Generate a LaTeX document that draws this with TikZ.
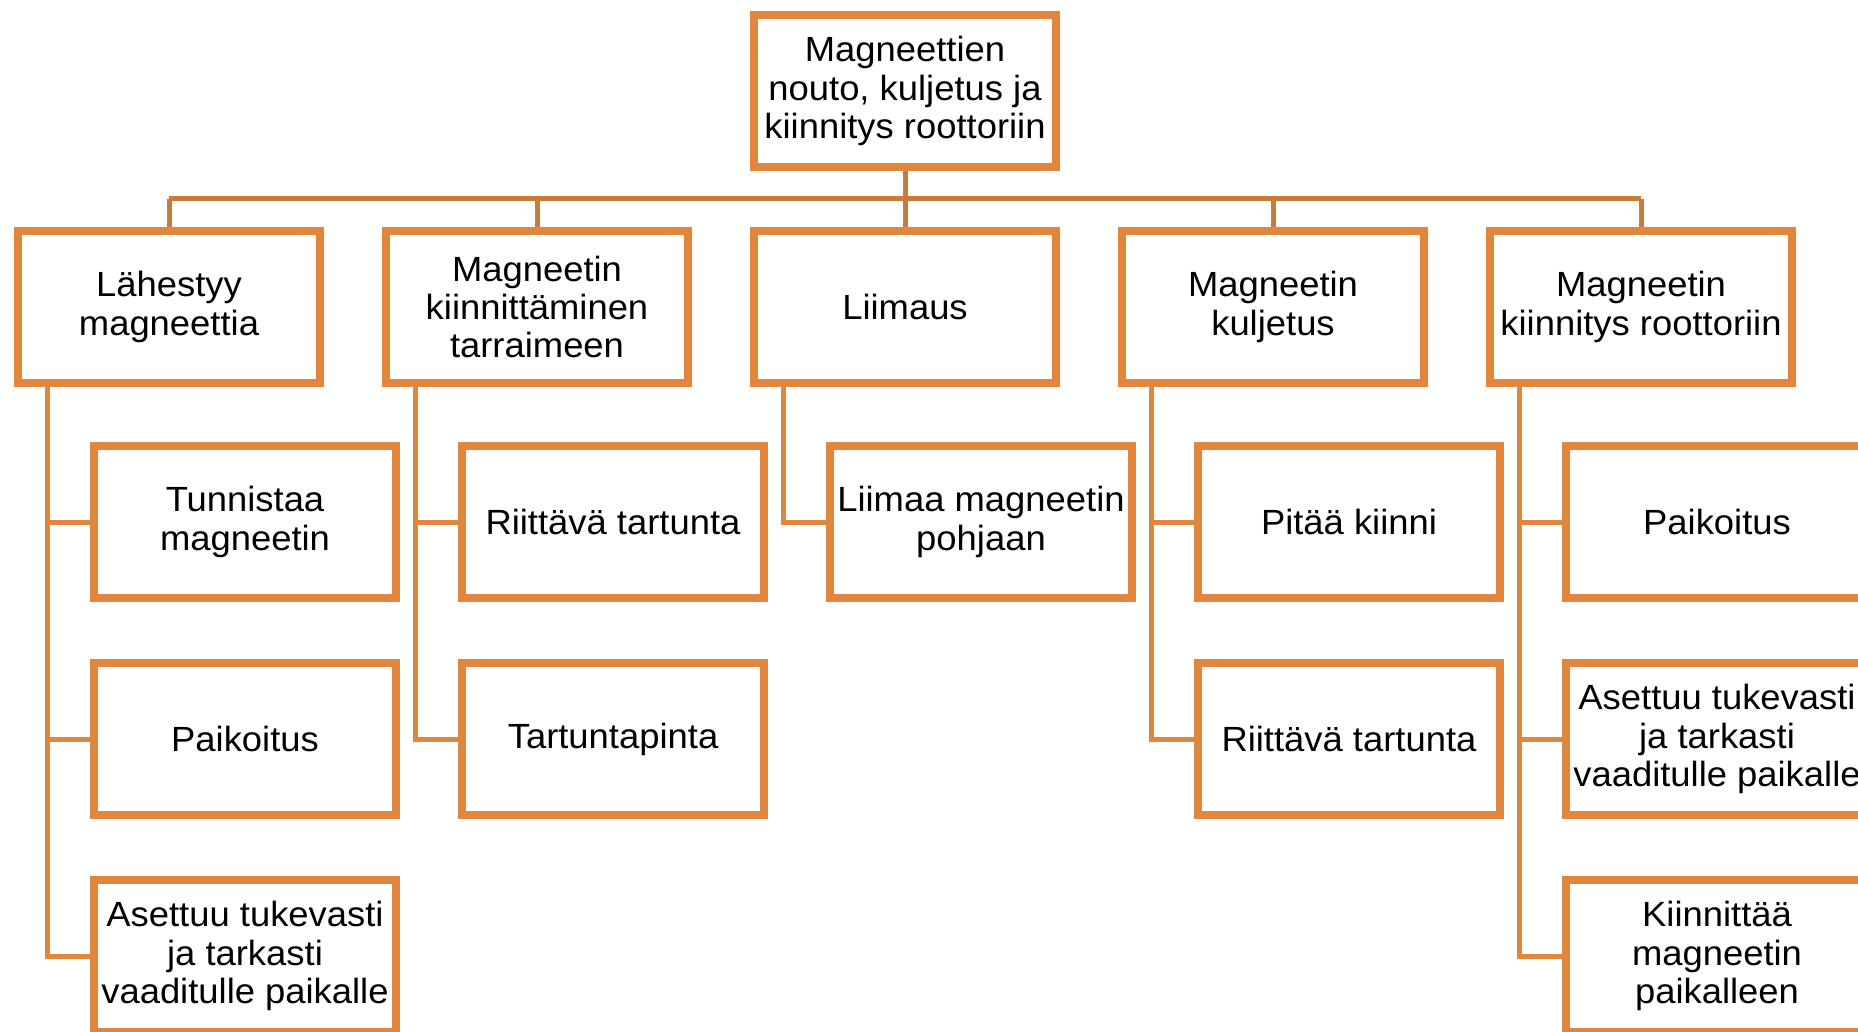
\documentclass[tikz,border=0pt]{standalone}
\usepackage{fontspec}
\setmainfont{Liberation Sans}[FakeStretch=1.04]
\usetikzlibrary{shadows}
\definecolor{boxorange}{RGB}{224,134,62}
\definecolor{busorange}{RGB}{204,122,58}
\begin{document}
\begin{tikzpicture}[x=0.5pt,y=-0.5pt,
  box/.style={draw=boxorange, line width=4pt, fill=white, minimum width=151pt, minimum height=76pt,
    inner sep=0pt, align=center, font=\fontsize{17.5}{19.2}\selectfont,
    drop shadow={shadow xshift=1pt,shadow yshift=-1.5pt,opacity=0.25}},
  bus/.style={draw=busorange, line width=2.5pt},
  link/.style={draw=boxorange, line width=2.5pt}]
\useasboundingbox (0,0) rectangle (1858,1032);
\clip (0,0) rectangle (1858,1032);
% top
\node[box] (top) at (905,91) {Magneettien\\nouto, kuljetus ja\\kiinnitys roottoriin};
% level 1
\node[box] (a) at (169,307) {Lähestyy\\magneettia};
\node[box] (b) at (537,307) {Magneetin\\kiinnittäminen\\tarraimeen};
\node[box] (c) at (905,307) {Liimaus};
\node[box] (d) at (1273,307) {Magneetin\\kuljetus};
\node[box] (e) at (1641,307) {Magneetin\\kiinnitys roottoriin};
% level 2
\node[box] (a1) at (245,522) {Tunnistaa\\magneetin};
\node[box] (a2) at (245,739) {Paikoitus};
\node[box] (a3) at (245,956) {Asettuu tukevasti\\ja tarkasti\\vaaditulle paikalle};
\node[box] (b1) at (613,522) {Riittävä tartunta};
\node[box] (b2) at (613,739) {Tartuntapinta};
\node[box] (c1) at (981,522) {Liimaa magneetin\\pohjaan};
\node[box] (d1) at (1349,522) {Pitää kiinni};
\node[box] (d2) at (1349,739) {Riittävä tartunta};
\node[box] (e1) at (1717,522) {Paikoitus};
\node[box] (e2) at (1717,739) {Asettuu tukevasti\\ja tarkasti\\vaaditulle paikalle};
\node[box] (e3) at (1717,956) {Kiinnittää\\magneetin\\paikalleen};
% bus
\coordinate (bus) at (905,199);
\draw[bus] (top.south) -- (bus);
\draw[bus] (a.north |- bus) -- (e.north |- bus);
\foreach \n in {a,b,c,d,e} {\draw[bus] (\n.north) -- (\n.north |- bus);}
% children links
\foreach \p/\kids in {a/{a1,a2,a3}, b/{b1,b2}, c/{c1}, d/{d1,d2}, e/{e1,e2,e3}} {
  \foreach \k in \kids {\draw[link] ([xshift=-61pt]\p.south) |- (\k.west);}
}
\end{tikzpicture}
\end{document}
